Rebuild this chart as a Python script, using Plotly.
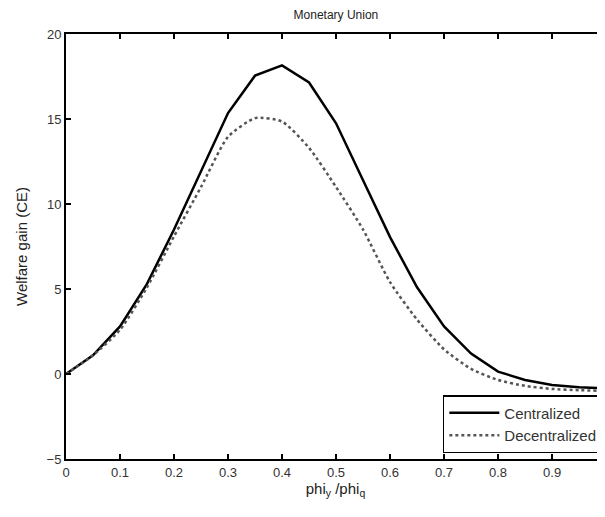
import plotly.graph_objects as go

x_vals = [0, 0.05, 0.1, 0.15, 0.2, 0.25, 0.3, 0.35, 0.4, 0.45, 0.5,
          0.55, 0.6, 0.65, 0.7, 0.75, 0.8, 0.85, 0.9, 0.95, 1.0]
centralized = [0, 1.1, 2.8, 5.3, 8.5, 11.9, 15.35, 17.55, 18.15, 17.15, 14.75,
               11.4, 8.05, 5.1, 2.8, 1.2, 0.14, -0.35, -0.65, -0.78, -0.85]
decentralized = [0, 1.1, 2.6, 5.1, 8.1, 11.0, 13.95, 15.05, 14.85, 13.3, 11.0,
                 8.5, 5.4, 3.2, 1.45, 0.3, -0.35, -0.7, -0.88, -0.95, -1.0]

x_ticks = [0, 0.1, 0.2, 0.3, 0.4, 0.5, 0.6, 0.7, 0.8, 0.9]
x_tick_labels = ["0", "0.1", "0.2", "0.3", "0.4", "0.5", "0.6", "0.7", "0.8", "0.9"]
y_ticks = [-5, 0, 5, 10, 15, 20]

font_family = "Arial, Liberation Sans, sans-serif"

fig = go.Figure()
fig.add_trace(go.Scatter(x=x_vals, y=centralized, mode="lines", name="Centralized",
                         line=dict(color="black", width=2.5)))
fig.add_trace(go.Scatter(x=x_vals, y=decentralized, mode="lines", name="Decentralized",
                         line=dict(color="#555555", width=2.5, dash="dot", shape="spline",
                                   smoothing=0.6)))

axis_common = dict(showgrid=False, zeroline=False, showline=True, linecolor="black",
                   linewidth=2, mirror="ticks", ticks="inside", ticklen=5, tickwidth=1.5,
                   tickcolor="black", automargin=False,
                   tickfont=dict(family=font_family, size=13, color="#333333"))

fig.update_xaxes(range=[0, 0.998], tickvals=x_ticks, ticktext=x_tick_labels,
                 title=dict(text="phi<sub>y</sub> /phi<sub>q</sub>",
                            font=dict(family=font_family, size=15, color="#222222"),
                            standoff=0),
                 **axis_common)
fig.update_yaxes(range=[-5, 20], tickvals=y_ticks,
                 title=dict(text="Welfare gain (CE)",
                            font=dict(family=font_family, size=15, color="#222222"),
                            standoff=15),
                 **axis_common)

fig.update_layout(
    width=605, height=517,
    margin=dict(l=58, r=8, t=26, b=66),
    paper_bgcolor="white", plot_bgcolor="white",
    title=dict(text="Monetary Union", x=0.542, xanchor="center", y=0.986, yanchor="middle",
               font=dict(family=font_family, size=12, color="#222222")),
    showlegend=True,
    legend=dict(x=0.996, y=0.014, xanchor="right", yanchor="bottom",
                bordercolor="black", borderwidth=1.5, bgcolor="white",
                font=dict(family=font_family, size=15, color="#333333"),
                tracegroupgap=0, itemwidth=50),
)

fig.write_html("out.html")
